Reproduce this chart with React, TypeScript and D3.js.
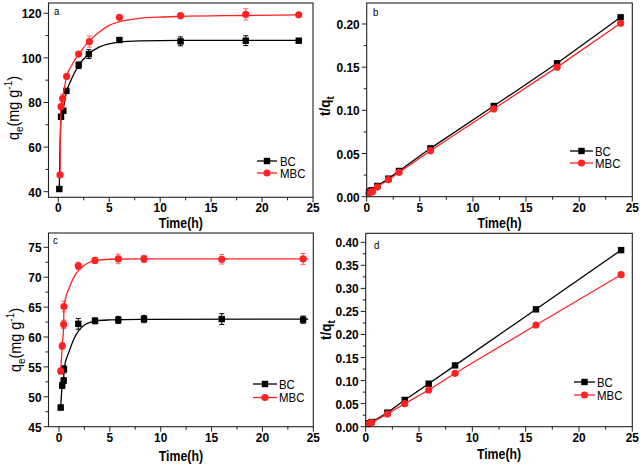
import React from 'react';
import * as d3 from 'd3';

const RED = '#ff2222';
const FONT = '"Liberation Sans", Arial, sans-serif';

// ---------- Panel a: qt vs time (fits) ----------
const aTimeBC = [0.1, 0.27, 0.5, 0.8, 2, 3, 6, 12, 18.4, 23.6];
const aQBC = [41.2, 73.6, 76.3, 85.2, 96.7, 101.7, 108.0, 107.4, 107.7, 107.7];
const aErrBC = [0.6, 0.8, 0.8, 0.8, 1.5, 2.0, 0.8, 2.0, 2.2, 0.8];
const aTimeMBC = [0.17, 0.27, 0.43, 0.82, 2, 3.05, 6, 12, 18.4, 23.6];
const aQMBC = [47.6, 78.1, 81.7, 91.7, 101.7, 107.3, 118.2, 118.9, 119.5, 119.3];
const aErrMBC = [0.6, 0.8, 2.0, 0.8, 0.8, 2.5, 0.8, 0.8, 2.5, 0.8];
const aFitTimeBC = [0.1, 0.27, 0.5, 0.8, 1.3, 2, 3, 4, 5, 6, 8, 12, 23.6];
const aFitQBC = [41.2, 73.6, 77.8, 84.5, 90.5, 96.7, 101.8, 104.8, 106.3, 107.1, 107.6, 107.8, 107.8];
const aFitTimeMBC = [0.17, 0.27, 0.43, 0.82, 1.3, 2, 3, 4, 5, 6, 8, 10, 12, 18, 23.6];
const aFitQMBC = [47.6, 78.1, 82, 91.7, 96.5, 101.7, 107.3, 111.5, 114.6, 116.2, 117.7, 118.3, 118.6, 119.0, 119.3];
const aYTicks = [40, 60, 80, 100, 120];

// ---------- Panel b: t/qt linear ----------
const bTime = [0.22, 0.37, 0.53, 1.0, 2.04, 3.04, 6.0, 11.96, 17.92, 23.9];
const bBC = [0.0051, 0.0069, 0.0074, 0.0124, 0.0209, 0.0298, 0.056, 0.105, 0.1545, 0.2077];
const bMBC = [0.0039, 0.0054, 0.0058, 0.0112, 0.0197, 0.0282, 0.0533, 0.1016, 0.150, 0.2008];
const bYTicks = [0, 0.05, 0.1, 0.15, 0.2];

// ---------- Panel c: qt vs time (fits) ----------
const cTime = [0.17, 0.32, 0.46, 0.49, 1.9, 3.54, 5.83, 8.36, 16.0, 24.0];
const cQBC = [48.2, 51.9, 52.7, 54.6, 62.2, 62.7, 62.85, 63.0, 63.0, 62.9];
const cErrBC = [0.4, 0.5, 0.5, 0.6, 0.9, 0.5, 0.6, 0.6, 0.9, 0.6];
const cQMBC = [54.3, 58.5, 62.1, 65.1, 71.9, 72.8, 73.05, 73.05, 73.0, 73.05];
const cErrMBC = [0.5, 0.5, 0.7, 0.9, 0.6, 0.5, 0.8, 0.6, 0.8, 0.9];
const cFitTimeBC = [0.17, 0.32, 0.46, 0.49, 1.0, 1.5, 2.0, 2.5, 3.0, 3.6, 5.0, 8.0, 24.5];
const cFitQBC = [48.2, 51.9, 52.8, 54.6, 57.6, 59.8, 61.2, 62.0, 62.4, 62.7, 62.85, 62.95, 63.0];
const cFitTimeMBC = [0.17, 0.32, 0.46, 0.49, 1.0, 1.5, 2.0, 2.5, 3.0, 3.6, 5.0, 8.0, 24.5];
const cFitQMBC = [54.3, 58.5, 62.1, 65.1, 68.2, 70.1, 71.3, 72.0, 72.5, 72.8, 73.0, 73.05, 73.05];
const cYTicks = [45, 50, 55, 60, 65, 70, 75];

// ---------- Panel d: t/qt linear ----------
const dTime = [0.31, 0.56, 2.03, 3.66, 5.91, 8.38, 15.97, 23.95];
const dBC = [0.0074, 0.0102, 0.0304, 0.058, 0.0933, 0.133, 0.2546, 0.383];
const dMBC = [0.006, 0.009, 0.0275, 0.05, 0.0796, 0.1158, 0.2206, 0.3297];
const dYTicks = [0, 0.05, 0.1, 0.15, 0.2, 0.25, 0.3, 0.35, 0.4];

const xTicks = [0, 5, 10, 15, 20, 25];
const seriesNames = ['BC', 'MBC'];
const panelLetters = ['a', 'b', 'c', 'd'];

type Series = {
  name: string;
  color: string;
  shape: 'square' | 'circle';
  t: number[];
  v: number[];
  e?: number[];
  fitT?: number[];
  fitV?: number[];
};

type PanelProps = {
  box: { l: number; r: number; t: number; b: number };
  xDom: [number, number];
  yDom: [number, number];
  yTicks: number[];
  yMinorStep: number;
  yFmt: (v: number) => string;
  series: Series[];
  letter: string;
  letterPos: [number, number];
  yTitle: 'q' | 't';
  yTitlePos: [number, number];
  tickLabelDy: number;
  xTitleDy: number;
  legend: { x1: number; x2: number; tx: number; y: number; dy: number };
};

function Txt(props: {
  x: number; y: number; size?: number; weight?: string; anchor?: string; sx?: number; rotate?: number; children: React.ReactNode;
}) {
  const { x, y, size = 13.5, weight = 'bold', anchor = 'middle', sx = 0.88, rotate = 0, children } = props;
  return (
    <text
      transform={`translate(${x},${y}) rotate(${rotate}) scale(${sx},1)`}
      fontSize={size}
      fontWeight={weight}
      textAnchor={anchor as any}
      fontFamily={FONT}
      fill="#000"
    >
      {children}
    </text>
  );
}

function Marker({ x, y, shape, color }: { x: number; y: number; shape: string; color: string }) {
  return shape === 'square' ? (
    <rect x={x - 3.2} y={y - 3.2} width={6.4} height={6.4} fill={color} />
  ) : (
    <circle cx={x} cy={y} r={3.6} fill={color} />
  );
}

function Panel(p: PanelProps) {
  const { box } = p;
  const x = d3.scaleLinear().domain(p.xDom).range([box.l, box.r]);
  const y = d3.scaleLinear().domain(p.yDom).range([box.b, box.t]);
  const xMinor = d3.range(2.5, 25, 5);
  const yMinor: number[] = [];
  for (let i = 0; i < p.yTicks.length - 1; i++) yMinor.push(p.yTicks[i] + p.yMinorStep);
  const smooth = d3.line<[number, number]>().x((d) => x(d[0])).y((d) => y(d[1])).curve(d3.curveMonotoneX);
  const straight = d3.line<[number, number]>().x((d) => x(d[0])).y((d) => y(d[1]));
  const cx = (box.l + box.r) / 2;
  return (
    <g>
      {p.series.map((s) => {
        const path = s.fitT
          ? smooth(s.fitT.map((t, i) => [t, s.fitV![i]] as [number, number]))
          : straight(s.t.map((t, i) => [t, s.v[i]] as [number, number]));
        return (
          <g key={s.name}>
            <path d={path || ''} fill="none" stroke={s.color} strokeWidth={1.3} />
            {s.e &&
              s.t.map((t, i) => {
                const px = x(t);
                const y1 = y(s.v[i] - s.e![i]);
                const y2 = y(s.v[i] + s.e![i]);
                return (
                  <g key={i} stroke={s.color} strokeWidth={1} opacity={s.color === RED ? 0.75 : 1}>
                    <line x1={px} x2={px} y1={y1} y2={y2} />
                    <line x1={px - 2.5} x2={px + 2.5} y1={y1} y2={y1} />
                    <line x1={px - 2.5} x2={px + 2.5} y1={y2} y2={y2} />
                  </g>
                );
              })}
            {s.t.map((t, i) => (
              <Marker key={i} x={x(t)} y={y(s.v[i])} shape={s.shape} color={s.color} />
            ))}
          </g>
        );
      })}
      <rect x={box.l} y={box.t} width={box.r - box.l} height={box.b - box.t} fill="none" stroke="#222" strokeWidth={1.1} />
      {xTicks.map((t) => (
        <g key={'x' + t}>
          <line x1={x(t)} x2={x(t)} y1={box.b} y2={box.b + 5} stroke="#222" />
          <Txt x={x(t)} y={box.b + p.tickLabelDy}>{String(t)}</Txt>
        </g>
      ))}
      {xMinor.map((t) => (
        <line key={'xm' + t} x1={x(t)} x2={x(t)} y1={box.b} y2={box.b + 3} stroke="#222" />
      ))}
      {p.yTicks.map((t) => (
        <g key={'y' + t}>
          <line x1={box.l - 5} x2={box.l} y1={y(t)} y2={y(t)} stroke="#222" />
          <Txt x={box.l - 7} y={y(t) + 5} anchor="end">{p.yFmt(t)}</Txt>
        </g>
      ))}
      {yMinor.map((t) => (
        <line key={'ym' + t} x1={box.l - 3} x2={box.l} y1={y(t)} y2={y(t)} stroke="#222" />
      ))}
      <Txt x={cx} y={box.b + p.xTitleDy} size={14}>Time(h)</Txt>
      {p.yTitle === 'q' ? (
        <Txt x={p.yTitlePos[0]} y={p.yTitlePos[1]} rotate={-90} weight="normal" size={16} sx={0.9}>
          q<tspan fontSize={11} dy={4}>e</tspan>
          <tspan dy={-4}>(mg g</tspan>
          <tspan fontSize={11} dy={-7}>-1</tspan>
          <tspan dy={7}>)</tspan>
        </Txt>
      ) : (
        <Txt x={p.yTitlePos[0]} y={p.yTitlePos[1]} rotate={-90} size={15} sx={0.9}>
          t/q<tspan fontSize={11} dy={4}>t</tspan>
        </Txt>
      )}
      <Txt x={p.letterPos[0]} y={p.letterPos[1]} weight="normal" size={11} anchor="start">{p.letter}</Txt>
      {p.series.map((s, i) => {
        const ly = p.legend.y + i * p.legend.dy;
        return (
          <g key={'lg' + s.name}>
            <line x1={p.legend.x1} x2={p.legend.x2} y1={ly} y2={ly} stroke={s.color} strokeWidth={1.3} />
            <Marker x={(p.legend.x1 + p.legend.x2) / 2} y={ly} shape={s.shape} color={s.color} />
            <Txt x={p.legend.tx} y={ly + 4.5} weight="normal" size={13} anchor="start">{s.name}</Txt>
          </g>
        );
      })}
    </g>
  );
}

const fmtInt = (v: number) => d3.format('d')(v);
const fmt2 = (v: number) => d3.format('.2f')(v);

export default function App() {
  return (
    <svg
      width={640}
      height={467}
      style={{ position: 'absolute', left: 0, top: 0, background: '#fff' }}
    >
      <rect x={0} y={0} width={640} height={467} fill="#fff" />
      <Panel
        box={{ l: 48.5, r: 313, t: 3, b: 197.3 }}
        xDom={[-0.96, 25]}
        yDom={[37.49, 124.6]}
        yTicks={aYTicks}
        yMinorStep={10}
        yFmt={fmtInt}
        letter={panelLetters[0]}
        letterPos={[54, 15]}
        yTitle="q"
        yTitlePos={[19, 108]}
        tickLabelDy={15}
        xTitleDy={31}
        legend={{ x1: 257, x2: 277, tx: 280, y: 161, dy: 12 }}
        series={[
          { name: seriesNames[0], color: '#000', shape: 'square', t: aTimeBC, v: aQBC, e: aErrBC, fitT: aFitTimeBC, fitV: aFitQBC },
          { name: seriesNames[1], color: RED, shape: 'circle', t: aTimeMBC, v: aQMBC, e: aErrMBC, fitT: aFitTimeMBC, fitV: aFitQMBC },
        ]}
      />
      <Panel
        box={{ l: 366.7, r: 632.3, t: 3, b: 196.7 }}
        xDom={[0, 25]}
        yDom={[0, 0.2243]}
        yTicks={bYTicks}
        yMinorStep={0.025}
        yFmt={fmt2}
        letter={panelLetters[1]}
        letterPos={[373, 16]}
        yTitle="t"
        yTitlePos={[330, 106]}
        tickLabelDy={15}
        xTitleDy={31}
        legend={{ x1: 570, x2: 593, tx: 595, y: 151, dy: 12 }}
        series={[
          { name: seriesNames[0], color: '#000', shape: 'square', t: bTime, v: bBC },
          { name: seriesNames[1], color: RED, shape: 'circle', t: bTime, v: bMBC },
        ]}
      />
      <Panel
        box={{ l: 48.5, r: 313.3, t: 233, b: 426.7 }}
        xDom={[-1.03, 25]}
        yDom={[45, 77.39]}
        yTicks={cYTicks}
        yMinorStep={2.5}
        yFmt={fmtInt}
        letter={panelLetters[2]}
        letterPos={[53, 244]}
        yTitle="q"
        yTitlePos={[21, 340]}
        tickLabelDy={15}
        xTitleDy={34}
        legend={{ x1: 253, x2: 277, tx: 279, y: 384, dy: 13.5 }}
        series={[
          { name: seriesNames[0], color: '#000', shape: 'square', t: cTime, v: cQBC, e: cErrBC, fitT: cFitTimeBC, fitV: cFitQBC },
          { name: seriesNames[1], color: RED, shape: 'circle', t: cTime, v: cQMBC, e: cErrMBC, fitT: cFitTimeMBC, fitV: cFitQMBC },
        ]}
      />
      <Panel
        box={{ l: 365.7, r: 632.3, t: 233.3, b: 426.7 }}
        xDom={[0, 25]}
        yDom={[0, 0.4195]}
        yTicks={dYTicks}
        yMinorStep={0.025}
        yFmt={fmt2}
        letter={panelLetters[3]}
        letterPos={[374, 249]}
        yTitle="t"
        yTitlePos={[331, 330]}
        tickLabelDy={15}
        xTitleDy={32}
        legend={{ x1: 574, x2: 595, tx: 597, y: 382, dy: 13 }}
        series={[
          { name: seriesNames[0], color: '#000', shape: 'square', t: dTime, v: dBC },
          { name: seriesNames[1], color: RED, shape: 'circle', t: dTime, v: dMBC },
        ]}
      />
    </svg>
  );
}
